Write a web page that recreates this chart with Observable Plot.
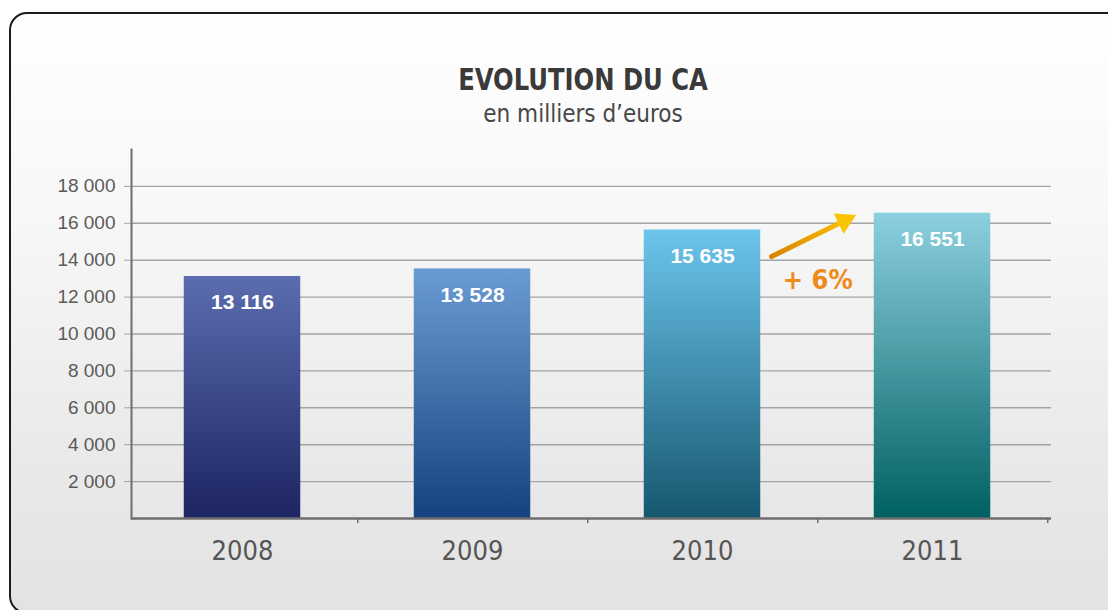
<!DOCTYPE html>
<html>
<head>
<meta charset="utf-8">
<script src="https://cdn.jsdelivr.net/npm/d3@7"></script>
<script src="https://cdn.jsdelivr.net/npm/@observablehq/plot@0.6"></script>
<style>
  html, body { margin: 0; padding: 0; background: #ffffff; }
  body { width: 1108px; height: 610px; position: relative; overflow: hidden; }
  #panel {
    position: absolute; left: 9px; top: 12px; width: 1120px; height: 598px;
    border: 2px solid #1c1c1c; border-radius: 18px;
    background: linear-gradient(to bottom, #ffffff 0%, #f7f7f7 35%, #e9e9e9 75%, #e3e3e3 100%);
  }
  #title {
    position: absolute; left: 583px; top: 61px; transform: translateX(-50%) scaleX(0.87);
    font-family: "Liberation Sans Narrow", "DejaVu Sans Condensed", sans-serif;
    font-weight: bold; font-size: 31px; color: #3a3a3a; white-space: nowrap;
  }
  #subtitle {
    position: absolute; left: 583px; top: 100px; transform: translateX(-50%);
    font-family: "Liberation Sans Narrow", "DejaVu Sans Condensed", sans-serif;
    font-size: 24px; color: #474747; white-space: nowrap;
  }
  #chart { position: absolute; left: 0; top: 0; }
</style>
</head>
<body>
<div id="panel"></div>
<div id="title">EVOLUTION DU CA</div>
<div id="subtitle">en milliers d’euros</div>
<div id="chart"></div>
<script>
// ---- data ----
const years = ["2008", "2009", "2010", "2011"];
const values = [13116, 13528, 15635, 16551];
const yTicks = [2000, 4000, 6000, 8000, 10000, 12000, 14000, 16000, 18000];
const gradTop = ["#5b6db0", "#6b9bd4", "#6cc5ec", "#8dd0e0"];
const gradBottom = ["#1d2462", "#15427f", "#16576f", "#006062"];
// growth annotation (arrow from 2010 to 2011)
const growthLabel = "+ 6%";
const arrowFrom = {x: "2010", y: 12361};
const arrowTo = {x: "2011", y: 18471};
const arrowHead = {x: "2011", y: 16140};
const labelPos = {x: "2010", y: 12903};

const rows = years.map((year, i) => ({year, value: values[i], i}));
const fmt = v => d3.format(",")(v).replace(/,/g, " ");

const W = 1108, H = 610;
const xRange = [126, 1048];
const bw = (xRange[1] - xRange[0]) / years.length;
const barInset = (bw - 117) / 2;

const narrow = "'Liberation Sans Narrow', 'DejaVu Sans Condensed', sans-serif";
const sans = "'Liberation Sans', Arial, sans-serif";

function defs() {
  const d = d3.create("svg:defs");
  years.forEach((y, i) => {
    const g = d.append("linearGradient").attr("id", "bar" + i)
      .attr("x1", 0).attr("y1", 0).attr("x2", 0).attr("y2", 1);
    g.append("stop").attr("offset", "0%").attr("stop-color", gradTop[i]);
    g.append("stop").attr("offset", "100%").attr("stop-color", gradBottom[i]);
  });
  const a = d.append("linearGradient").attr("id", "arrowGrad")
    .attr("x1", 0).attr("y1", 0).attr("x2", 1).attr("y2", 0);
  a.append("stop").attr("offset", "0%").attr("stop-color", "#d98300");
  a.append("stop").attr("offset", "100%").attr("stop-color", "#fbc200");
  return d.node();
}

const plot = Plot.plot({
  width: W, height: H,
  marginTop: 149, marginBottom: 92, marginLeft: 131, marginRight: 57,
  style: {background: "transparent", overflow: "visible"},
  x: {domain: years, range: xRange, padding: 0, label: null},
  y: {domain: [0, 20000], label: null},
  marks: [
    defs,
    Plot.gridY(yTicks, {stroke: "#a3a3a3", strokeOpacity: 1, strokeWidth: 1.4}),
    Plot.axisY({ticks: yTicks, tickSize: 7, tickPadding: 9, tickFormat: fmt, label: null,
      stroke: "#a3a3a3", fill: "#5a5a5a", fontSize: 19, fontFamily: sans}),
    Plot.axisX({tickSize: 0, tickPadding: 22, label: null, fill: "#555", fontSize: 27, fontFamily: narrow}),
    Plot.axisX({tickSize: 5, tickFormat: () => "", label: null, dx: bw / 2, stroke: "#6e6e6e", strokeWidth: 1.5}),
    ...rows.map(r => Plot.barY([r], {x: "year", y: "value", fill: `url(#bar${r.i})`,
      insetLeft: barInset, insetRight: barInset})),
    Plot.frame({anchor: "left", stroke: "#6e6e6e", strokeWidth: 2}),
    Plot.ruleY([0], {stroke: "#6e6e6e", strokeWidth: 2.5}),
    Plot.text(rows, {x: "year", y: "value", text: d => fmt(d.value), dy: 26,
      fill: "white", fontWeight: "bold", fontSize: 21, fontFamily: sans}),
    Plot.arrow([{x1: arrowFrom.x, y1: arrowFrom.y, x2: arrowTo.x, y2: arrowTo.y}], {
      x1: "x1", y1: "y1", x2: "x2", y2: "y2", bend: 0, headLength: 0,
      insetStart: 77, insetEnd: 94, stroke: "url(#arrowGrad)", strokeWidth: 5}),
    Plot.dot([arrowHead], {x: "x", y: "y", dx: -88, symbol: "triangle2", r: 10.7, rotate: 64,
      fill: "#fbc400", stroke: "none"}),
    Plot.text([labelPos], {x: "x", y: "y", dx: bw / 2, text: () => growthLabel,
      fill: "#ef8a1a", fontWeight: "bold", fontSize: 27, fontFamily: narrow})
  ]
});
document.getElementById("chart").appendChild(plot);
</script>
</body>
</html>
